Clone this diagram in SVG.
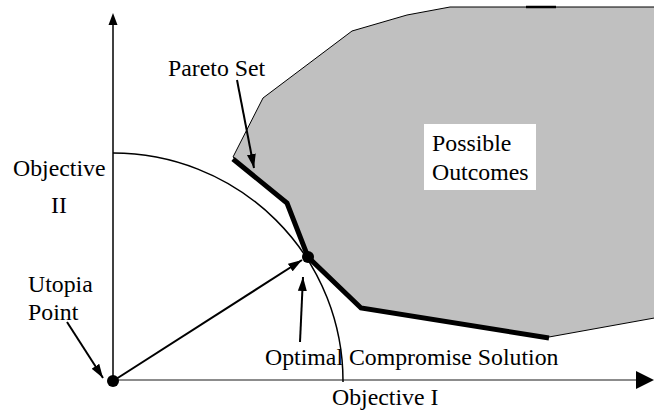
<svg xmlns="http://www.w3.org/2000/svg" width="654" height="412" viewBox="0 0 654 412">
<style>
.t{font-family:'Liberation Serif','Times New Roman',serif;font-size:23.8px;fill:#000}
.thin{fill:none;stroke:#000;stroke-width:1.5}
.arr{fill:none;stroke:#000;stroke-width:2;marker-end:url(#ah)}
</style>
<defs>
<marker id="ah" markerUnits="userSpaceOnUse" markerWidth="15" markerHeight="10" refX="14" refY="5" orient="auto">
<path d="M0,0.5 L14,5 L0,9.5 z" fill="#000"/>
</marker>
</defs>
<rect width="654" height="412" fill="#fff"/>
<g id="outcomes">
<polygon points="233,157 263,98 352,31 407,15 450,7 660,7 660,317 549,337 361,308 308,257 287,203" fill="#c0c0c0" stroke="#000" stroke-width="1"/>
<line x1="526" y1="7" x2="556" y2="7" stroke="#000" stroke-width="2.5"/>
<rect x="424" y="124" width="112" height="66" fill="#fff"/>
<text class="t" x="432" y="151">Possible</text>
<text class="t" x="432" y="180">Outcomes</text>
</g>
<g id="axes">
<line x1="113" y1="381" x2="113" y2="24" stroke="#000" stroke-width="1.5"/>
<polygon points="113,13 108.5,25 117.5,25" fill="#000"/>
<line x1="113" y1="380" x2="637" y2="380" stroke="#666" stroke-width="1.5"/>
<polygon points="654,380 636,371 636,389" fill="#000"/>
<text class="t" x="13" y="176">Objective</text>
<text class="t" x="59" y="213" text-anchor="middle">II</text>
<text class="t" x="332" y="405">Objective I</text>
</g>
<g id="arc">
<path class="thin" d="M113,153 A230,228 0 0 1 343,382"/>
</g>
<g id="pareto-set">
<polyline points="233,159 287,203 308,257 361,308 549,338" fill="none" stroke="#000" stroke-width="5" stroke-linejoin="miter"/>
<text class="t" x="168" y="76">Pareto Set</text>
</g>
<g id="utopia">
<circle cx="113" cy="381" r="6" fill="#000"/>
<text class="t" x="28" y="292">Utopia</text>
<text class="t" x="28" y="320">Point</text>
</g>
<g id="optimal">
<circle cx="308" cy="257" r="6" fill="#000"/>
<text class="t" x="265" y="365">Optimal Compromise Solution</text>
</g>
<g id="connectors">
<line class="arr" x1="113" y1="381" x2="302" y2="260"/>
<line class="arr" x1="237" y1="80" x2="254" y2="168"/>
<line class="arr" x1="67" y1="322" x2="103" y2="378"/>
<line class="arr" x1="300" y1="342" x2="303" y2="277"/>
</g>
</svg>
